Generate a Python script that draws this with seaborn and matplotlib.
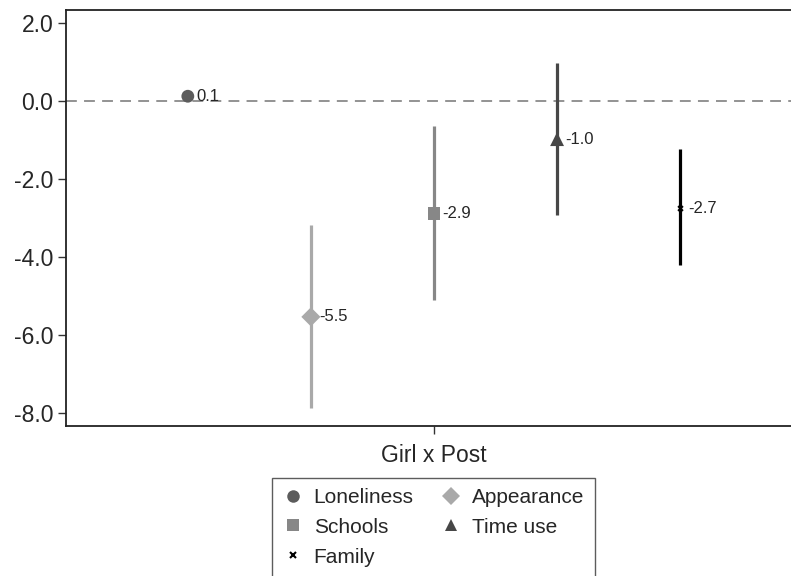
import pandas as pd
import matplotlib.pyplot as plt
import seaborn as sns
from matplotlib.lines import Line2D

# coefficient estimates and 95% CIs for Girl x Post
outcomes = ['Loneliness', 'Appearance', 'Schools', 'Time use', 'Family']
estimates = [0.13, -5.53, -2.87, -0.97, -2.74]
ci_low = [0.13, -7.87, -5.10, -2.92, -4.20]
ci_high = [0.13, -3.18, -0.64, 0.97, -1.23]
colors = ['#5c5c5c', '#a9a9a9', '#878787', '#474747', '#000000']
markers = ['o', 'D', 's', '^', 'x']

sns.set_style("ticks")
plt.rcParams['font.family'] = ['Liberation Sans', 'DejaVu Sans']

df = pd.DataFrame({'outcome': outcomes, 'est': estimates, 'lo': ci_low, 'hi': ci_high})
df['pos'] = range(-2, len(df) - 2)

fig = plt.figure(figsize=(7.91, 5.76), dpi=100)
ax = fig.add_axes([0.0834, 0.2604, 0.9305, 0.7214])

ax.axhline(0, color='#8a8a8a', lw=1.3, ls=(0, (6, 4)), zorder=1)

ax.vlines(df['pos'], df['lo'], df['hi'], colors=colors, lw=2.3, zorder=2)

# filled markers through seaborn, the line-art 'x' for Family drawn separately
filled = df[df['outcome'] != 'Family']
sizes = {'Loneliness': 85, 'Appearance': 95, 'Schools': 85, 'Time use': 100}
sns.scatterplot(data=filled, x='pos', y='est', hue='outcome', style='outcome',
                palette=dict(zip(outcomes[:4], colors[:4])),
                markers=dict(zip(outcomes[:4], markers[:4])),
                size='outcome', sizes=sizes, legend=False, ax=ax, zorder=3,
                linewidth=0)
fam = df[df['outcome'] == 'Family']
ax.scatter(fam['pos'], fam['est'], marker='x', s=12, color='black', lw=1.5, zorder=4)

for _, r in df.iterrows():
    ax.annotate(f"{r['est']:.1f}", (r['pos'], r['est']), xytext=(6, 0),
                textcoords='offset points', va='center', ha='left', fontsize=12)

ax.set_xlim(-2.99, 2.99)
ax.set_ylim(-8.33, 2.33)
ax.set_yticks([-8, -6, -4, -2, 0, 2])
ax.set_yticklabels([f"{t:.1f}" for t in [-8, -6, -4, -2, 0, 2]])
ax.set_xticks([0])
ax.set_xticklabels(['Girl x Post'])
ax.tick_params(axis='both', labelsize=16.5, length=6, width=1, color='#333333')
ax.tick_params(axis='x', pad=7)
ax.tick_params(axis='y', pad=3)
ax.set_xlabel('')
ax.set_ylabel('')
for s in ax.spines.values():
    s.set_linewidth(1.3)
    s.set_color('#222222')

handles = [Line2D([], [], ls='', marker=m, color=c, markersize=ms, mew=mw)
           for m, c, ms, mw in zip(markers, colors, [9, 9, 9, 9, 4], [0, 0, 0, 0, 1.5])]
order = [0, 2, 4, 1, 3]
leg = fig.legend([handles[i] for i in order], [outcomes[i] for i in order],
                 loc='upper center', bbox_to_anchor=(0.548, 0.171), ncol=2,
                 fontsize=15, frameon=True, fancybox=False, edgecolor='#333333',
                 handlelength=1.0, handletextpad=0.5, columnspacing=1.3,
                 labelspacing=0.52, borderpad=0.5, borderaxespad=0)
leg.get_frame().set_linewidth(1.0)

fig.savefig('out.png', dpi=100)
